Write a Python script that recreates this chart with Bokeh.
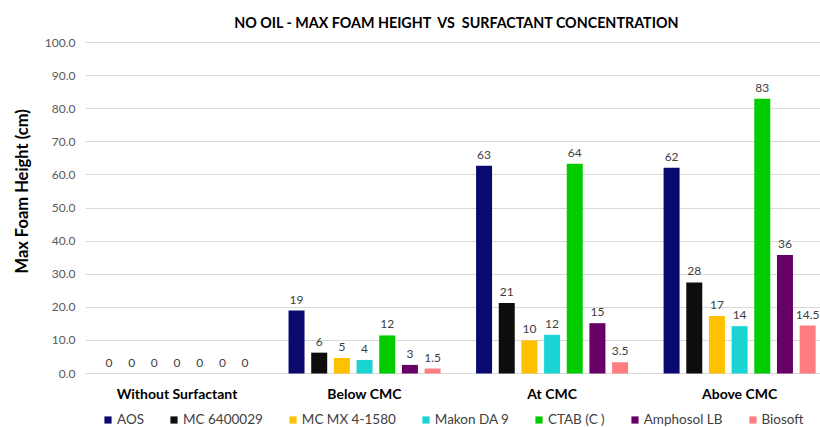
from bokeh.plotting import figure
from bokeh.models import (ColumnDataSource, Range1d, FixedTicker, Legend, LegendItem,
                          NumeralTickFormatter, Label, Title)
from bokeh.transform import dodge
from bokeh.core.properties import value
from bokeh.embed import file_html
from bokeh.resources import INLINE

# ---- data ----
categories = ["Without Surfactant", "Below CMC", "At CMC", "Above CMC"]
series = ["AOS", "MC 6400029", "MC MX 4-1580", "Makon DA 9", "CTAB (C )", "Amphosol LB", "Biosoft"]
colors = ["#0A0A6E", "#0D0D0D", "#FFC000", "#1CD3D3", "#00CC00", "#660066", "#FF7C80"]

aos = [0, 19.0, 62.8, 62.2]
mc_6400029 = [0, 6.3, 21.3, 27.5]
mc_mx = [0, 4.7, 10.0, 17.4]
makon = [0, 4.1, 11.7, 14.3]
ctab = [0, 11.5, 63.4, 83.0]
amphosol = [0, 2.6, 15.2, 35.8]
biosoft = [0, 1.5, 3.4, 14.5]

aos_lbl = ["0", "19", "63", "62"]
mc_6400029_lbl = ["0", "6", "21", "28"]
mc_mx_lbl = ["0", "5", "10", "17"]
makon_lbl = ["0", "4", "12", "14"]
ctab_lbl = ["0", "12", "64", "83"]
amphosol_lbl = ["0", "3", "15", "36"]
biosoft_lbl = ["0", "1.5", "3.5", "14.5"]

y_ticks = [0, 10, 20, 30, 40, 50, 60, 70, 80, 90, 100]

title_text = "NO OIL - MAX FOAM HEIGHT\u00a0 VS\u00a0 SURFACTANT CONCENTRATION"
y_title = "Max Foam Height (cm)"

values = [aos, mc_6400029, mc_mx, makon, ctab, amphosol, biosoft]
labels = [aos_lbl, mc_6400029_lbl, mc_mx_lbl, makon_lbl, ctab_lbl, amphosol_lbl, biosoft_lbl]

FONT = "Lato"
cat_pos = [i + 0.5 for i in range(len(categories))]

# frame covers the full figure height; value axis 0..100 maps to the chart area
x_start, x_end = 0.012, 3.942
p = figure(frame_width=737, frame_height=427, x_range=Range1d(x_start, x_end),
           y_range=Range1d(-16.31, 112.69), x_axis_location=None,
           output_backend="svg", toolbar_location=None,
           min_border_left=83, min_border_right=0, min_border_top=0, min_border_bottom=0)
p.outline_line_color = None
p.background_fill_color = "white"
p.border_fill_color = "white"

step = 0.1209
width = 0.0853
items = []
for j, (name, col, vals, lbls) in enumerate(zip(series, colors, values, labels)):
    src = ColumnDataSource(dict(x=cat_pos, top=vals, lbl=lbls))
    off = (j - (len(series) - 1) / 2) * step
    r = p.vbar(x=dodge("x", off), top="top", bottom=0, width=width, source=src,
               fill_color=col, line_color=None)
    items.append(LegendItem(label=name, renderers=[r]))
    p.text(x=dodge("x", off), y="top", text="lbl", source=src,
           text_align="center", text_baseline="bottom", y_offset=-7,
           text_font_size="12px", text_color="#404040", text_font=value(FONT))

# category labels (below the zero line)
cat_src = ColumnDataSource(dict(x=cat_pos, y=[0] * len(categories), t=categories))
p.text(x="x", y="y", text="t", source=cat_src, y_offset=20,
       text_align="center", text_baseline="middle",
       text_font=value(FONT), text_font_size="14px", text_font_style="bold",
       text_color="#000000")

# title
p.add_layout(Label(x=(x_start + x_end) / 2, y=y_ticks[-1], text=title_text, x_offset=3, y_offset=20,
                   text_align="center", text_baseline="middle",
                   text_font=FONT, text_font_size="14.3px", text_font_style="bold",
                   text_color="#000000"))

# value axis
p.yaxis.ticker = FixedTicker(ticks=y_ticks)
p.yaxis.formatter = NumeralTickFormatter(format="0.0")
p.yaxis.major_label_text_font = FONT
p.yaxis.major_label_text_font_size = "12px"
p.yaxis.major_label_text_color = "#595959"
p.yaxis.axis_line_color = None
p.yaxis.major_tick_line_color = None
p.yaxis.minor_tick_line_color = None
p.yaxis.major_tick_out = 0
p.yaxis.major_tick_in = 0
p.yaxis.major_label_standoff = 10

p.add_layout(Title(text=y_title, align="left", offset=154, standoff=19,
                   text_font=FONT, text_font_size="16.5px", text_font_style="bold",
                   text_color="#000000"), "left")

p.xgrid.grid_line_color = None
p.ygrid.grid_line_color = "#D9D9D9"
p.ygrid.grid_line_width = 1

legend = Legend(items=items, orientation="horizontal", location=(18, 0),
                label_text_font=FONT, label_text_font_size="13.5px", label_text_color="#404040",
                glyph_width=9, glyph_height=9, label_standoff=5, spacing=25,
                border_line_color=None, background_fill_alpha=0,
                padding=0, margin=0, label_height=14)
p.add_layout(legend, "center")

open("out.html", "w").write(file_html(p, INLINE))
